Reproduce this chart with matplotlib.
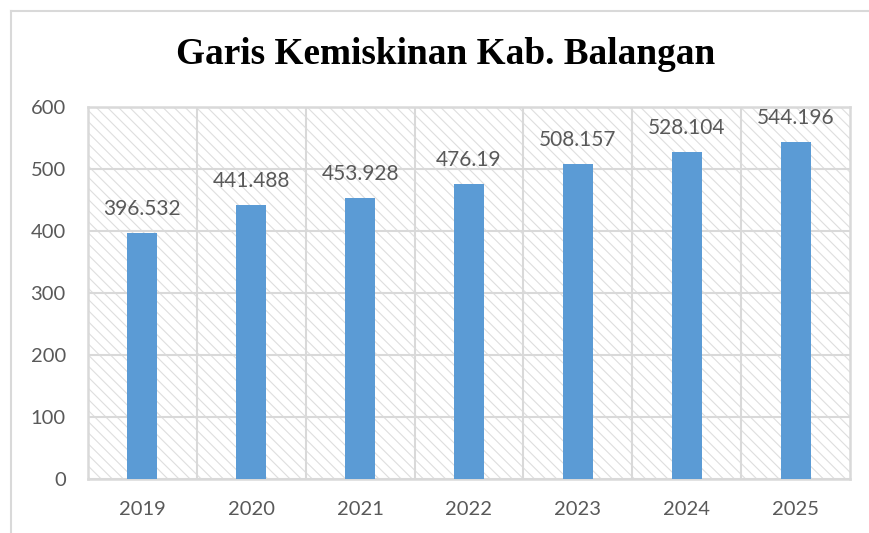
import matplotlib
matplotlib.use("Agg")
import matplotlib.pyplot as plt
from matplotlib.lines import Line2D

years = ["2019", "2020", "2021", "2022", "2023", "2024", "2025"]
values = [396.532, 441.488, 453.928, 476.19, 508.157, 528.104, 544.196]
labels = ["396.532", "441.488", "453.928", "476.19", "508.157", "528.104", "544.196"]

grid_col = "#d9d9d9"
text_col = "#595959"
bar_col = "#5b9bd5"

plt.rcParams["font.family"] = ["Lato", "DejaVu Sans"]
plt.rcParams["hatch.color"] = "#dedede"
plt.rcParams["hatch.linewidth"] = 0.8

fig = plt.figure(figsize=(8.7, 5.33), dpi=100)
ax = fig.add_axes([88/870, 54/533, 762/870, 372/533])

# hatched plot background
ax.patch.set_facecolor("white")
ax.patch.set_hatch("\\\\\\")
ax.patch.set_edgecolor("#dedede")

x = range(len(years))
ax.bar(x, values, width=0.275, color=bar_col, zorder=3)

for i, v in enumerate(values):
    ax.annotate(labels[i], (i, v), xytext=(0, 10), textcoords="offset points",
                ha="center", va="bottom", fontsize=15, color=text_col, zorder=4)

ax.set_xlim(-0.5, len(years) - 0.5)
ax.set_ylim(0, 600)
ax.set_yticks(range(0, 601, 100))
ax.set_xticks(list(x))
ax.set_xticklabels(years)

# horizontal grid + vertical category separators
ax.yaxis.grid(True, color=grid_col, lw=1.5, zorder=1)
for b in range(1, len(years)):
    ax.axvline(b - 0.5, color=grid_col, lw=1.5, zorder=1)
ax.set_axisbelow(True)

for s in ax.spines.values():
    s.set_color(grid_col)
    s.set_linewidth(1.8)

ax.tick_params(axis="both", length=0, labelsize=14.5, colors=text_col)
ax.tick_params(axis="y", pad=16)
ax.tick_params(axis="x", pad=16)

fig.text(446/870, 1 - 54/533, "Garis Kemiskinan Kab. Balangan", ha="center", va="center",
         fontsize=26.8, fontweight="bold", family="Liberation Serif", color="black")

# outer chart border (cropped on right/bottom)
fig.add_artist(Line2D([11/870, 11/870], [0, 1 - 11/533], color=grid_col, lw=1.5))
fig.add_artist(Line2D([11/870, 1], [1 - 11/533, 1 - 11/533], color=grid_col, lw=1.5))

fig.savefig("out.png", dpi=100)
